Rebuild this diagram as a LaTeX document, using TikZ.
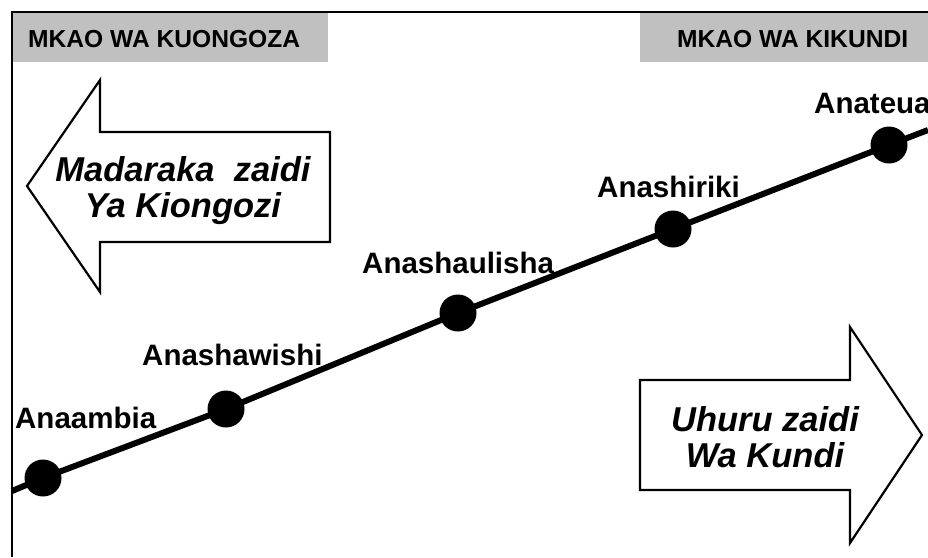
\documentclass[tikz,border=0pt]{standalone}
\usepackage{fontspec}
\setmainfont{Liberation Sans}
\definecolor{hdrgray}{HTML}{C0C0C0}
\begin{document}
\begin{tikzpicture}[x=1pt,y=-1pt,
  hdr/.style={font=\fontsize{24.6}{28}\selectfont\bfseries, anchor=base west, inner sep=0pt},
  lbl/.style={font=\fontsize{29.5}{34}\selectfont\bfseries, anchor=base west, inner sep=0pt},
  dot/.style={circle, fill=black, minimum size=37pt, inner sep=0pt},
  arrowtxt/.style={font=\fontsize{34.5}{36}\selectfont\bfseries\itshape, align=center, inner sep=0pt},
  bigarrow/.style={draw=black, line width=2.2pt, fill=white, line join=miter},
  gbox/.style={fill=hdrgray}
]
\useasboundingbox (0,0) rectangle (928,557);
% header boxes
\fill[gbox] (13,13) rectangle (328,62);
\fill[gbox] (640,13) rectangle (928,62);
\node[hdr] (h1) at (28,47) {MKAO WA KUONGOZA};
\node[hdr] (h2) at (677,47) {MKAO WA KIKUNDI};
% frame
\draw[line width=2.8pt] (12,557) -- (12,12) -- (928,12);
% arrows
\draw[bigarrow] (27,186) -- (100,80) -- (100,132) -- (330,132) -- (330,242) -- (100,242) -- (100,292) -- cycle;
\draw[bigarrow] (640,380) -- (850,380) -- (850,327) -- (922,435) -- (850,543) -- (850,490) -- (640,490) -- cycle;
\node[arrowtxt] (t1) at (183,191) {Madaraka\ \ zaidi\\Ya Kiongozi};
\node[arrowtxt] (t2) at (765,437) {Uhuru zaidi\\Wa Kundi};
% line with dots
\coordinate (s) at (12,491);
\coordinate (e) at (928,130);
\node[dot] (d1) at (43,478) {};
\node[dot] (d2) at (226,409) {};
\node[dot] (d3) at (458,313) {};
\node[dot] (d4) at (673,229) {};
\node[dot] (d5) at (889,145) {};
\draw[line width=6pt] (s) -- (d1.center) -- (d2.center) -- (d3.center) -- (d4.center) -- (d5.center) -- (e);
% labels
\node[lbl] (l1) at (15,428) {Anaambia};
\node[lbl] (l2) at (142,365) {Anashawishi};
\node[lbl] (l3) at (362,273) {Anashaulisha};
\node[lbl] (l4) at (597,197) {Anashiriki};
\node[lbl] (l5) at (814,113) {Anateua};
\end{tikzpicture}
\end{document}
